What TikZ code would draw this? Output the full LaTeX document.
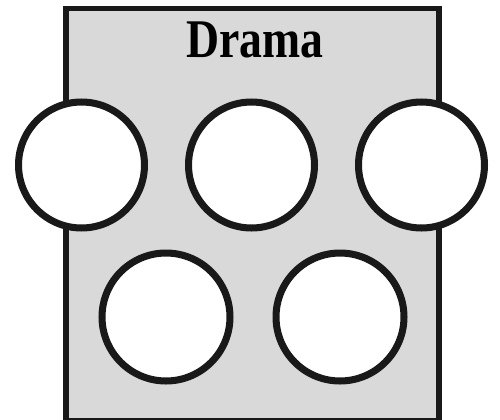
\documentclass[tikz,border=0pt]{standalone}
\usepackage{fontspec}
\setmainfont{Liberation Serif}
\usetikzlibrary{positioning}

\begin{document}
\begin{tikzpicture}[
  x=0.02cm,y=-0.02cm,
  genrebox/.style={draw=black!90,line width=3.1pt,fill=black!15,
    minimum width=7.46cm,minimum height=8.24cm,inner sep=0pt},
  slot/.style={circle,draw=black!90,line width=4pt,fill=white,
    minimum size=2.52cm,inner sep=0pt},
  heading/.style={font=\bfseries\fontsize{31}{31}\selectfont,anchor=base}
]
  \useasboundingbox (0,0) rectangle (500,419);
  \node[genrebox] (frame) at (252.5,214.5) {};
  \node[heading] (title) at (255,57) {\scalebox{0.84}[1]{Drama}};

  \node[slot] (slotA) at (81.5,165) {};
  \node[slot] (slotB) at (251.5,165) {};
  \node[slot] (slotC) at (421.5,165) {};
  \node[slot,minimum size=2.56cm] (slotD) at (166,317) {};
  \node[slot,minimum size=2.56cm] (slotE) at (340,317) {};
\end{tikzpicture}
\end{document}
